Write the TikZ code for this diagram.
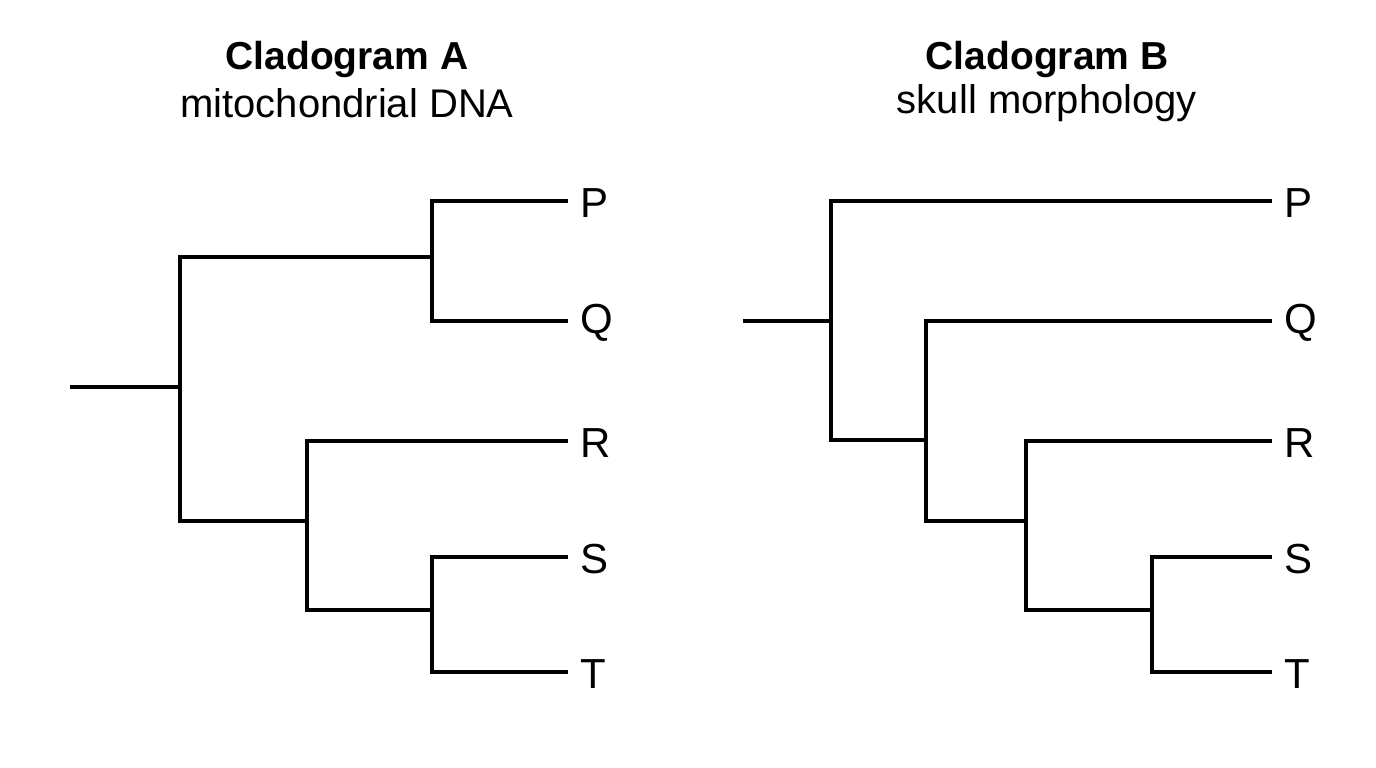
\documentclass[tikz,border=0pt]{standalone}
\usepackage{fontspec}
\setmainfont{Liberation Sans}
\begin{document}
\begin{tikzpicture}[x=1pt,y=-1pt,
  br/.style={line width=4pt,line cap=rect,line join=miter},
  leaf/.style={anchor=west,inner sep=0pt,font=\fontsize{42}{48}\selectfont},
  ttl/.style={font=\bfseries\fontsize{39}{44}\selectfont},
  sub/.style={font=\fontsize{40}{46}\selectfont}]
\useasboundingbox (0,0) rectangle (1376,768);
% Cladogram A
\node[ttl] (ta) at (347,60) {Cladogram A};
\node[sub] (sa) at (347,103) {mitochondrial DNA};
\coordinate (a0) at (72,387);
\coordinate (a1t) at (180,257); \coordinate (a1b) at (180,521);
\coordinate (a2t) at (432,201); \coordinate (a2b) at (432,321);
\coordinate (a3t) at (307,441); \coordinate (a3b) at (307,610);
\coordinate (a4t) at (432,557); \coordinate (a4b) at (432,672);
\node[leaf] (aP) at (580,203) {P};
\node[leaf] (aQ) at (580,323) {Q};
\node[leaf] (aR) at (580,443) {R};
\node[leaf] (aS) at (580,559) {S};
\node[leaf] (aT) at (580,674) {T};
\draw[br] (a0) -- (180,387);
\draw[br] (a1t) -- (a1b);
\draw[br] (a1t) -- (432,257);
\draw[br] (a2t) -- (a2b);
\draw[br] (a2t) -- (566,201);
\draw[br] (a2b) -- (566,321);
\draw[br] (a1b) -- (307,521);
\draw[br] (a3t) -- (a3b);
\draw[br] (a3t) -- (566,441);
\draw[br] (a3b) -- (432,610);
\draw[br] (a4t) -- (a4b);
\draw[br] (a4t) -- (566,557);
\draw[br] (a4b) -- (566,672);
% Cladogram B
\node[ttl] (tb) at (1047,60) {Cladogram B};
\node[sub] (sb) at (1047,103) {skull morphology};
\coordinate (b0) at (745,321);
\coordinate (b1t) at (831,201); \coordinate (b1b) at (831,440);
\coordinate (b2t) at (926,321); \coordinate (b2b) at (926,521);
\coordinate (b3t) at (1026,441); \coordinate (b3b) at (1026,610);
\coordinate (b4t) at (1152,557); \coordinate (b4b) at (1152,672);
\node[leaf] (bP) at (1284,203) {P};
\node[leaf] (bQ) at (1284,323) {Q};
\node[leaf] (bR) at (1284,443) {R};
\node[leaf] (bS) at (1284,559) {S};
\node[leaf] (bT) at (1284,674) {T};
\draw[br] (b0) -- (831,321);
\draw[br] (b1t) -- (b1b);
\draw[br] (b1t) -- (1270,201);
\draw[br] (b1b) -- (926,440);
\draw[br] (b2t) -- (b2b);
\draw[br] (b2t) -- (1270,321);
\draw[br] (b2b) -- (1026,521);
\draw[br] (b3t) -- (b3b);
\draw[br] (b3t) -- (1270,441);
\draw[br] (b3b) -- (1152,610);
\draw[br] (b4t) -- (b4b);
\draw[br] (b4t) -- (1270,557);
\draw[br] (b4b) -- (1270,672);
\end{tikzpicture}
\end{document}
